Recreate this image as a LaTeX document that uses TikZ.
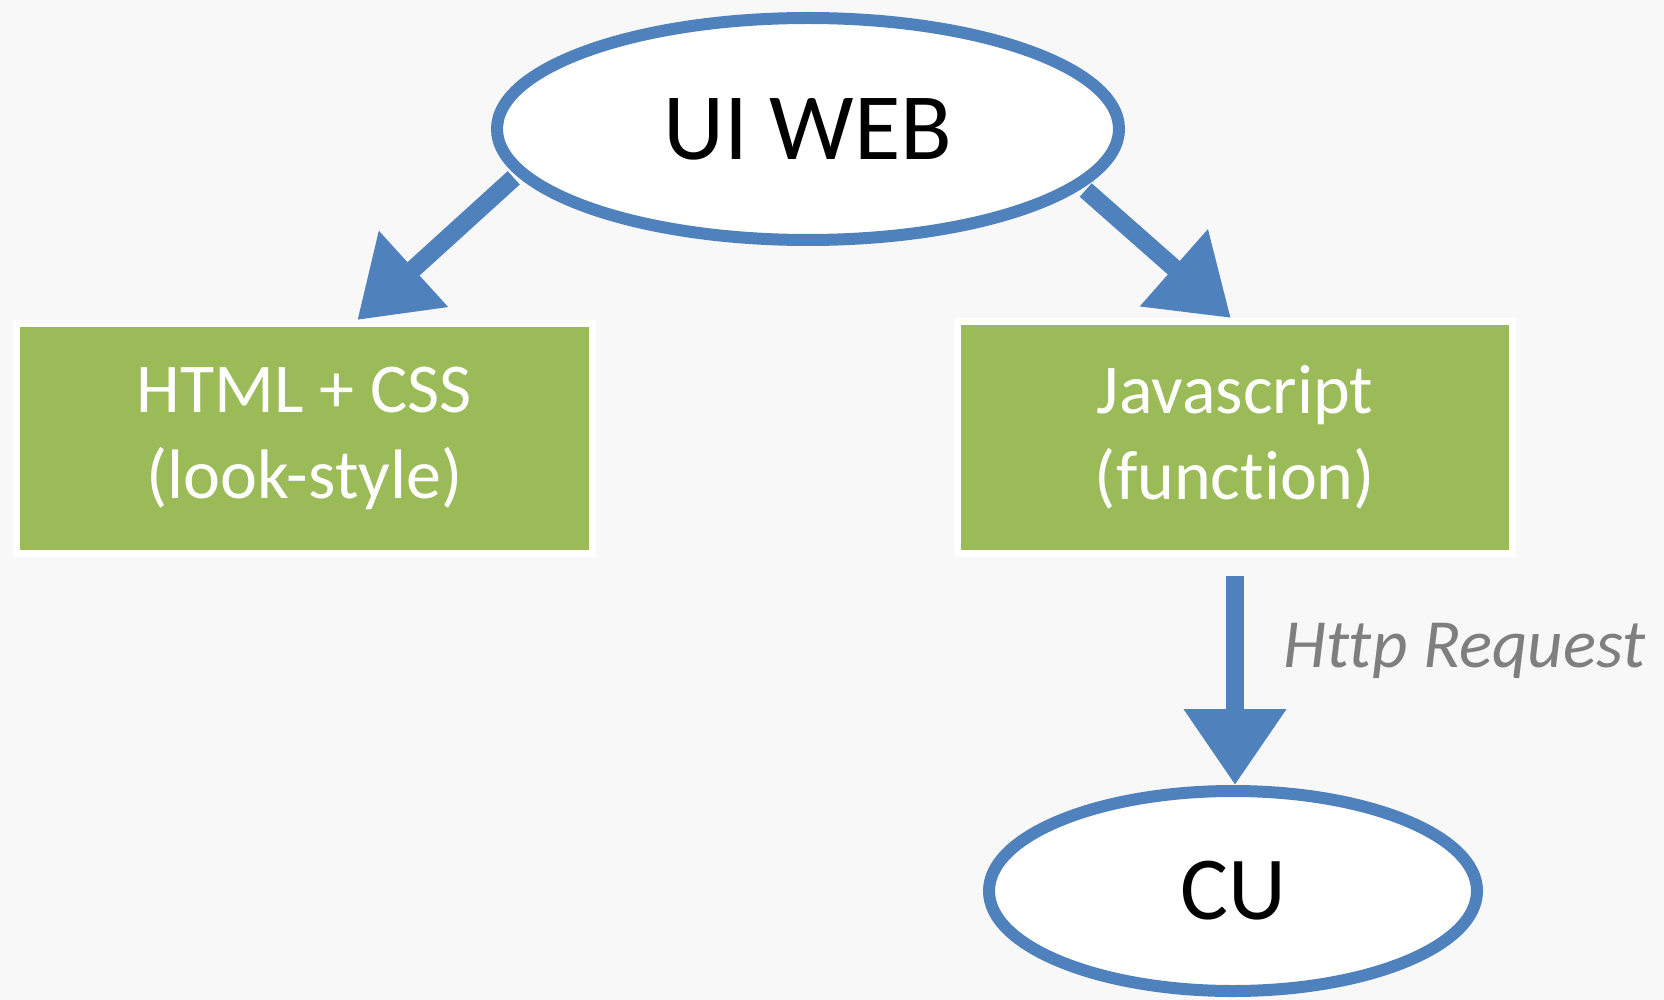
\documentclass[tikz,border=0pt]{standalone}
\usepackage{fontspec}
\setmainfont{Carlito}[Ligatures={NoCommon}]
\usetikzlibrary{shapes.geometric,arrows.meta,shadows}
\definecolor{bg}{HTML}{F8F8F8}
\definecolor{myblue}{HTML}{4F81BD}
\definecolor{mygreen}{HTML}{9BBB59}
\definecolor{mygray}{HTML}{7F7F7F}
\begin{document}
\begin{tikzpicture}[x=1pt,y=-1pt,
  oval/.style={ellipse,draw=myblue,line width=12pt,fill=white,inner sep=0pt,
    drop shadow={shadow xshift=3pt,shadow yshift=-3pt,opacity=0.2}},
  greenbox/.style={rectangle,draw=white,line width=7pt,fill=mygreen,inner sep=0pt,
    text=white,align=center,font=\fontsize{70}{86}\selectfont,
    drop shadow={shadow xshift=3pt,shadow yshift=-3pt,opacity=0.2}},
  bigarrow/.style={draw=myblue,line width=18pt,-{Triangle[width=98pt,length=76pt]}}
]
\fill[bg] (0,0) rectangle (1664,1000);
\useasboundingbox (0,0) rectangle (1664,1000);

\node[oval,minimum width=622pt,minimum height=222pt,font=\fontsize{95}{110}\selectfont] (ui) at (808,129) {UI WEB};
\node[greenbox,minimum width=576pt,minimum height=230pt] (html) at (304.5,438.5) {HTML + CSS\\(look-style)};
\node[greenbox,minimum width=555pt,minimum height=232pt] (js) at (1235,437.5) {Javascript\\(function)};
\node[oval,minimum width=488pt,minimum height=200pt,font=\fontsize{90}{105}\selectfont] (cu) at (1233,891) {CU};

\draw[bigarrow,shorten <=4pt] (ui.189) -- (html.66);
\draw[bigarrow,shorten <=4pt] (ui.-12) -- (js.92);
\draw[bigarrow,shorten <=19pt] (js.south) -- (js.south |- cu.north)
  node[pos=0.41,right=36pt,text=mygray,font=\fontsize{69}{80}\selectfont\itshape] (lbl) {Http Request};
\end{tikzpicture}
\end{document}
